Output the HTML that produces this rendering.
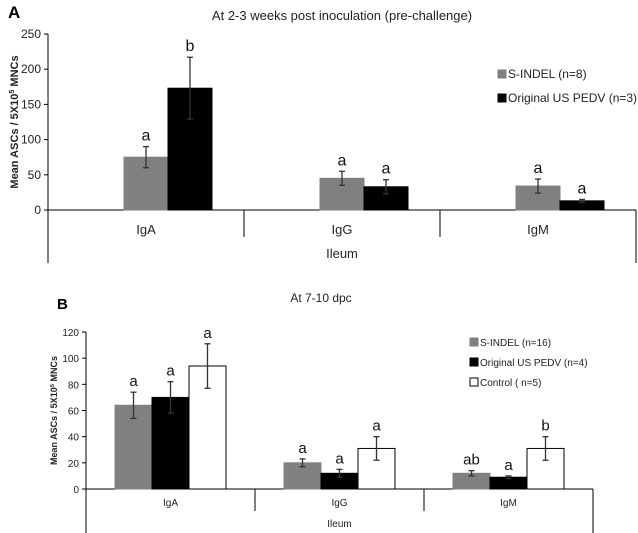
<!DOCTYPE html>
<html><head><meta charset="utf-8"><style>
body{margin:0;background:#fff}
svg{display:block;font-family:"Liberation Sans",sans-serif}
</style></head><body>
<svg id="c" width="638" height="533"></svg>
<script>
const catsA=["IgA","IgG","IgM"];
const seriesA1=[75,45,34];
const errA1=[15,10,10];
const sigA1=["a","a","a"];
const seriesA2=[173,33,13];
const errA2=[44,10,2];
const sigA2=["b","a","a"];
const ticksA=[0,50,100,150,200,250];
const catsB=["IgA","IgG","IgM"];
const seriesB1=[64,20,12];
const errB1=[10,3,2];
const sigB1=["a","a","ab"];
const seriesB2=[70,12,9];
const errB2=[12,3,1];
const sigB2=["a","a","a"];
const seriesB3=[94,31,31];
const errB3=[17,9,9];
const sigB3=["a","a","b"];
const ticksB=[0,20,40,60,80,100,120];
const NS="http://www.w3.org/2000/svg";
const svg=document.getElementById('c');
function mk(t,a,txt){const e=document.createElementNS(NS,t);for(const k in a)e.setAttribute(k,a[k]);if(txt!==undefined)e.textContent=txt;svg.appendChild(e);return e;}

function panel(o){
  const y=v=>o.y0-(v/o.max)*(o.y0-o.yTop);
  let e=mk('line',{x1:o.x0,y1:o.yTop,x2:o.x0,y2:o.yBot,stroke:'#000'});
  
  
  e=mk('line',{x1:o.x0,y1:o.y0,x2:o.xEnd,y2:o.y0,stroke:'#000'});
  
  
  e=mk('line',{x1:o.xEnd,y1:o.y0,x2:o.xEnd,y2:o.yBot,stroke:'#000'});
  
  
  o.ticks.forEach(t=>{
    mk('line',{x1:o.x0-4,y1:y(t),x2:o.x0,y2:y(t),stroke:'#000'});
    e=mk('text',{x:o.x0-7,y:y(t)+4,'text-anchor':'end','font-size':o.tfs,fill:'#222'},t);
    
    
  });
  const gw=(o.xEnd-o.x0)/o.cats.length;
  o.cats.forEach((c,i)=>{
    const cx=o.x0+gw*(i+0.5);
    if(i>0){mk('line',{x1:o.x0+gw*i,y1:o.y0,x2:o.x0+gw*i,y2:o.y0+o.sepLen,stroke:'#000'});}
    e=mk('text',{x:cx,y:o.y0+o.catDy,'text-anchor':'middle','font-size':o.cfs,fill:'#222'},c);
    
    
    const n=o.series.length, start=cx+o.off-n*o.bw/2;
    o.series.forEach((s,j)=>{
      const v=s.vals[i],bx=start+j*o.bw,by=y(v);
      e=mk('rect',{x:bx,y:by,width:o.bw,height:o.y0-by,fill:s.fill,stroke:s.stroke||s.fill,'stroke-width':1});
      
      
      const ex=bx+o.bw/2,eh=y(v+s.err[i]),el=y(v-s.err[i]);
      mk('line',{x1:ex,y1:eh,x2:ex,y2:el,stroke:'#333','stroke-width':1.3});
      mk('line',{x1:ex-3,y1:eh,x2:ex+3,y2:eh,stroke:'#333','stroke-width':1.3});
      mk('line',{x1:ex-3,y1:el,x2:ex+3,y2:el,stroke:'#333','stroke-width':1.3});
      e=mk('text',{x:ex,y:eh-6,'text-anchor':'middle','font-size':o.sfs,fill:'#111'},s.sig[i]);
      
      
    });
  });
  e=mk('text',{x:(o.x0+o.xEnd)/2,y:o.y0+o.ileumDy,'text-anchor':'middle','font-size':o.cfs,fill:'#222'},'Ileum');
  
  
  const ly=(o.yTop+o.y0)/2;
  e=mk('text',{x:o.ylx,y:ly,'text-anchor':'middle','font-size':o.yfs,'font-weight':'bold',fill:'#222',transform:`rotate(-90 ${o.ylx} ${ly})`});
  e.innerHTML='Mean ASCs / 5X10<tspan baseline-shift="super" font-size="'+(o.yfs*0.65)+'">5</tspan> MNCs';
  
  
  o.series.forEach((s,j)=>{
    const yy=o.legY+j*o.legDy;
    e=mk('rect',{x:o.legX,y:yy-7,width:8,height:8,fill:s.fill,stroke:s.stroke||s.fill});
    
    
    e=mk('text',{x:o.legX+10,y:yy+1,'font-size':o.lfs,fill:'#222'},s.label);
    
    
  });
}
panel({x0:48,xEnd:636,yTop:34,y0:210,yBot:263,max:250,ticks:ticksA,cats:catsA,bw:44,off:22,sepLen:27,catDy:24,ileumDy:48,
  tfs:12,cfs:13,sfs:16,yfs:11,lfs:12,ylx:18,legX:498,legY:77,legDy:24,
  series:[{key:'s-indel',label:'S-INDEL (n=8)',fill:'#808080',vals:seriesA1,err:errA1,sig:sigA1},
          {key:'original-us-pedv',label:'Original US PEDV (n=3)',fill:'#000',vals:seriesA2,err:errA2,sig:sigA2}]});
panel({x0:86,xEnd:593,yTop:332,y0:489,yBot:533,max:120,ticks:ticksB,cats:catsB,bw:37,off:0,sepLen:22,catDy:17,ileumDy:38,
  tfs:10,cfs:10,sfs:15,yfs:9,lfs:10,ylx:57,legX:470,legY:345,legDy:20,
  series:[{key:'s-indel',label:'S-INDEL (n=16)',fill:'#808080',vals:seriesB1,err:errB1,sig:sigB1},
          {key:'original-us-pedv',label:'Original US PEDV (n=4)',fill:'#000',vals:seriesB2,err:errB2,sig:sigB2},
          {key:'control',label:'Control ( n=5)',fill:'#fff',stroke:'#000',vals:seriesB3,err:errB3,sig:sigB3}]});
let t=mk('text',{x:8,y:18,'font-size':17,'font-weight':'bold'},'A');


t=mk('text',{x:57,y:309,'font-size':15,'font-weight':'bold'},'B');


t=mk('text',{x:342,y:20,'text-anchor':'middle','font-size':13,fill:'#222'},'At 2-3 weeks post inoculation (pre-challenge)');


t=mk('text',{x:321,y:302,'text-anchor':'middle','font-size':12,fill:'#222'},'At 7-10 dpc');


</script>
</body></html>
